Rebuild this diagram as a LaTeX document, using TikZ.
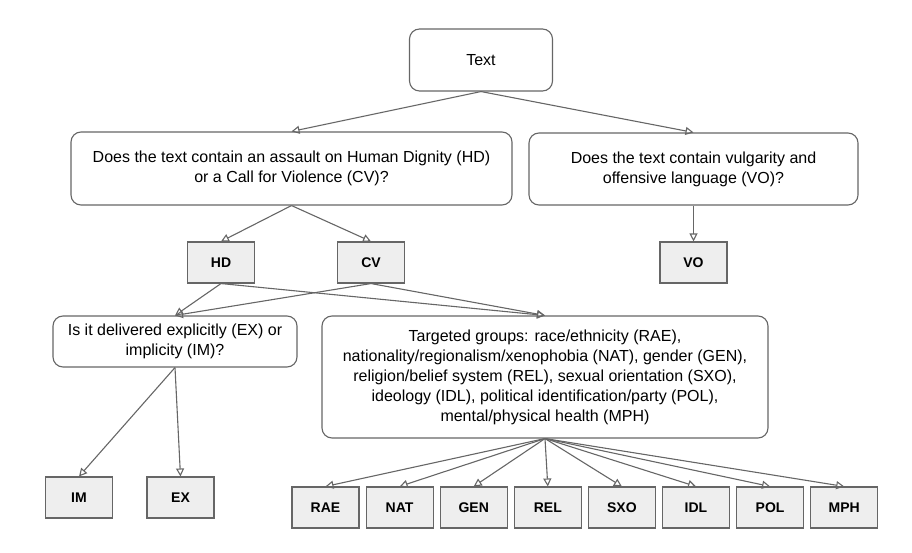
\documentclass[tikz,border=0pt]{standalone}
\usepackage{fontspec}
\setmainfont{Liberation Sans}
\usetikzlibrary{positioning}
\usetikzlibrary{arrows.meta}
\definecolor{linegray}{HTML}{666666}
\definecolor{boxgray}{HTML}{EEEEEE}

\begin{document}
\begin{tikzpicture}[x=1pt,y=-1pt,every node/.style={inner sep=0pt}]
	
	\tikzstyle{question}=[rectangle,rounded corners=10pt,draw=linegray,line width=1.1pt,fill=white,align=center,font=\fontsize{16}{20}\selectfont]
	\tikzstyle{label box}=[rectangle,draw=linegray,line width=1.1pt,fill=boxgray,minimum width=67pt,minimum height=41pt,font=\fontsize{14}{16}\selectfont\bfseries]
	\tikzstyle{arrow}=[-{Triangle[open,length=8pt,width=8pt]},draw=linegray,line width=1.1pt]
	
	\useasboundingbox (0,0) rectangle (912,553);
	
	% Questions:
	\node [question,minimum width=143pt,minimum height=62pt] at (481,60) (text) {Text};
	\node [question,minimum width=441pt,minimum height=73pt] at (291.5,168.5) (hdcv) {Does the text contain an assault on Human Dignity (HD)\\or a Call for Violence (CV)?};
	\node [question,minimum width=329pt,minimum height=72pt] at (693.5,169) (vulg) {Does the text contain vulgarity and\\offensive language (VO)?};
	\node [question,minimum width=244pt,minimum height=51pt] at (175,341.5) (expl) {Is it delivered explicitly (EX) or\\implicity (IM)?};
	\node [question,minimum width=446pt,minimum height=122pt] at (545,377) (groups) {Targeted groups: race/ethnicity (RAE),\\nationality/regionalism/xenophobia (NAT), gender (GEN),\\religion/belief system (REL), sexual orientation (SXO),\\ideology (IDL), political identification/party (POL),\\mental/physical health (MPH)};
	
	% Labels:
	\node [label box] at (221,262.5) (hd) {HD};
	\node [label box] at (371,262.5) (cv) {CV};
	\node [label box] at (693.5,262.5) (vo) {VO};
	\node [label box] at (79,497.5) (im) {IM};
	\node [label box] at (180.5,497.5) (ex) {EX};
	\node [label box] at (325.5,507.5) (rae) {RAE};
	\node [label box,right=6pt of rae] (nat) {NAT};
	\node [label box,right=6pt of nat] (gen) {GEN};
	\node [label box,right=6pt of gen] (rel) {REL};
	\node [label box,right=6pt of rel] (sxo) {SXO};
	\node [label box,right=6pt of sxo] (idl) {IDL};
	\node [label box,right=6pt of idl] (pol) {POL};
	\node [label box,right=6pt of pol] (mph) {MPH};
	
	\draw[arrow] (text.south) -- (hdcv.north);
	\draw[arrow] (text.south) -- (vulg.north);
	\draw[arrow] (hdcv.south) -- (hd.north);
	\draw[arrow] (hdcv.south) -- (cv.north);
	\draw[arrow] (vulg.south) -- (vo.north);
	\draw[arrow] (hd.south) -- (expl.north);
	\draw[arrow] (cv.south) -- (expl.north);
	\draw[arrow] (hd.south) -- (groups.north);
	\draw[arrow] (cv.south) -- (groups.north);
	\draw[arrow] (expl.south) -- (im.north);
	\draw[arrow] (expl.south) -- (ex.north);
	\foreach \g in {rae,nat,gen,rel,sxo,idl,pol,mph}
		\draw[arrow] (groups.south) -- (\g.north);
	
\end{tikzpicture}
\end{document}
